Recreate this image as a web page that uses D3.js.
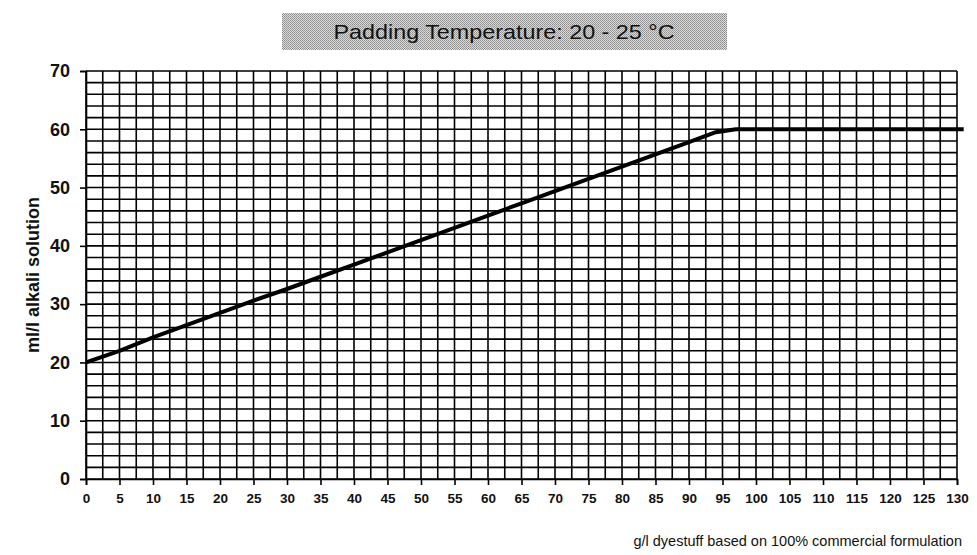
<!DOCTYPE html>
<html>
<head>
<meta charset="utf-8">
<script src="https://cdn.jsdelivr.net/npm/d3@7"></script>
<style>
  body { margin: 0; background: #fff; }
  text { font-family: "Liberation Sans", Arial, sans-serif; }
</style>
</head>
<body>
<div id="chart"></div>
<script>
// dosage
let doseX = [0, 5, 10, 15, 20, 25, 30, 35, 40, 45, 50, 55, 60, 65, 70, 75, 80, 85, 90, 94, 97, 100, 105, 110, 115, 120, 125, 131];
let alkaliY = [20, 22, 24.3, 26.4, 28.5, 30.6, 32.6, 34.7, 36.8, 38.9, 41, 43.1, 45.2, 47.3, 49.4, 51.5, 53.6, 55.7, 57.8, 59.5, 60, 60, 60, 60, 60, 60, 60, 60];
let xTicks = d3.range(0, 131, 5);
let yTicks = [0, 10, 20, 30, 40, 50, 60, 70];
let xGrid = d3.range(0, 130.1, 2.5);
let yGrid = d3.range(0, 70.1, 2);
let titleText = 'Padding Temperature: 20 - 25 °C';
let xLabel = 'g/l dyestuff based on 100% commercial formulation';
let yLabel = 'ml/l alkali solution';

let width = 977, height = 555;

let svg = d3.select('#chart').append('svg').attr('width', width).attr('height', height);

let defs = svg.append('defs');
let pat = defs.append('pattern').attr('id', 'dots').attr('width', 2).attr('height', 2)
  .attr('patternUnits', 'userSpaceOnUse');
pat.append('rect').attr('width', 2).attr('height', 2).attr('fill', '#dadada');
pat.append('rect').attr('width', 1).attr('height', 1).attr('fill', '#8c8c8c');
pat.append('rect').attr('x', 1).attr('y', 1).attr('width', 1).attr('height', 1).attr('fill', '#a0a0a0');

let xScale = d3.scaleLinear().domain([0, 130]).range([86, 957]);
let yScale = d3.scaleLinear().domain([0, 70]).range([479, 71]);

// title box
svg.append('rect').attr('x', 282).attr('y', 13).attr('width', 445).attr('height', 37)
  .attr('fill', 'url(#dots)');
svg.append('text').text(titleText).attr('x', 504).attr('y', 39)
  .attr('text-anchor', 'middle').attr('font-size', 21)
  .attr('textLength', 341).attr('lengthAdjust', 'spacingAndGlyphs').attr('fill', '#111');

let grid = svg.append('g').attr('class', 'grid');
grid.selectAll('.vline').data(xGrid).enter().append('line').attr('class', 'vline')
  .attr('x1', d => xScale(d)).attr('x2', d => xScale(d))
  .attr('y1', yScale(70)).attr('y2', yScale(0))
  .attr('stroke', '#000').attr('stroke-width', 1.6);
grid.selectAll('.hline').data(yGrid).enter().append('line').attr('class', 'hline')
  .attr('x1', xScale(0)).attr('x2', xScale(130))
  .attr('y1', d => yScale(d)).attr('y2', d => yScale(d))
  .attr('stroke', '#000').attr('stroke-width', 1.6);

let xAxis = d3.axisBottom(xScale).tickValues(xTicks).tickSize(6).tickPadding(8);
let gx = svg.append('g').attr('class', 'xAxis')
  .attr('transform', 'translate(' + [0, yScale(0)] + ')').call(xAxis);
gx.select('.domain').attr('stroke', '#000').attr('stroke-width', 1.6);
gx.selectAll('.tick line').attr('stroke', '#000').attr('stroke-width', 1.6);
gx.selectAll('.tick text').attr('font-size', 13.5).attr('font-weight', 'bold')
  .attr('fill', '#111').attr('font-family', '"Liberation Sans", Arial, sans-serif');

let yAxis = d3.axisLeft(yScale).tickValues(yTicks).tickSize(6).tickPadding(10);
let gy = svg.append('g').attr('class', 'yAxis')
  .attr('transform', 'translate(' + [xScale(0), 0] + ')').call(yAxis);
gy.select('.domain').attr('stroke', '#000').attr('stroke-width', 1.6);
gy.selectAll('.tick line').attr('stroke', '#000').attr('stroke-width', 1.6);
gy.selectAll('.tick text').attr('font-size', 18).attr('font-weight', 'bold')
  .attr('fill', '#111').attr('font-family', '"Liberation Sans", Arial, sans-serif');

// dosage curve
let line = d3.line().x((d, i) => xScale(doseX[i])).y(d => yScale(d));
svg.append('path').datum(alkaliY).attr('d', line)
  .attr('fill', 'none').attr('stroke', '#000').attr('stroke-width', 4)
  .attr('stroke-linejoin', 'round');

svg.append('text').text(xLabel).attr('x', 962).attr('y', 546)
  .attr('text-anchor', 'end').attr('font-size', 14.5).attr('fill', '#111');

svg.append('text').text(yLabel)
  .attr('transform', 'translate(' + [39, 275] + ') rotate(-90)')
  .attr('text-anchor', 'middle').attr('font-size', 18).attr('font-weight', 'bold').attr('fill', '#111');
</script>
</body>
</html>
